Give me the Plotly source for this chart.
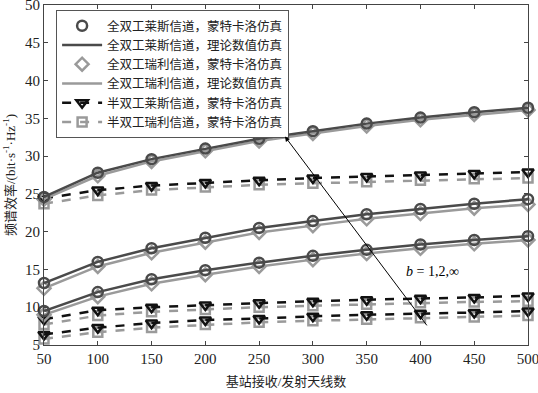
import plotly.graph_objects as go

antennas = [50, 100, 150, 200, 250, 300, 350, 400, 450, 500]

# Full-duplex, Rician channel (theory ≈ Monte Carlo), b = 1, 2, ∞
fd_rician_b1 = [24.6, 27.8, 29.6, 31.0, 32.3, 33.3, 34.3, 35.1, 35.8, 36.4]
fd_rician_b2 = [13.2, 16.0, 17.8, 19.2, 20.5, 21.4, 22.3, 23.0, 23.7, 24.3]
fd_rician_binf = [9.5, 12.0, 13.7, 14.9, 15.9, 16.8, 17.6, 18.3, 18.9, 19.4]

# Full-duplex, Rayleigh channel
fd_rayleigh_b1 = [24.3, 27.4, 29.3, 30.7, 32.0, 33.0, 34.0, 34.8, 35.5, 36.1]
fd_rayleigh_b2 = [12.5, 15.4, 17.2, 18.6, 19.9, 20.8, 21.7, 22.4, 23.1, 23.6]
fd_rayleigh_binf = [9.0, 11.4, 13.1, 14.3, 15.4, 16.3, 17.1, 17.8, 18.4, 18.9]

# Half-duplex, Rician channel
hd_rician_b1 = [24.4, 25.5, 26.1, 26.5, 26.8, 27.1, 27.3, 27.5, 27.7, 27.9]
hd_rician_b2 = [8.4, 9.6, 10.0, 10.3, 10.6, 10.8, 11.0, 11.2, 11.3, 11.5]
hd_rician_binf = [6.4, 7.3, 7.9, 8.3, 8.5, 8.8, 9.0, 9.2, 9.3, 9.5]

# Half-duplex, Rayleigh channel
hd_rayleigh_b1 = [23.7, 24.8, 25.5, 25.9, 26.2, 26.4, 26.6, 26.8, 27.0, 27.1]
hd_rayleigh_b2 = [7.7, 8.9, 9.4, 9.7, 10.0, 10.2, 10.4, 10.6, 10.7, 10.8]
hd_rayleigh_binf = [5.8, 6.7, 7.3, 7.7, 8.0, 8.2, 8.4, 8.6, 8.7, 8.9]

legend_names = [
    "全双工莱斯信道，蒙特卡洛仿真",
    "全双工莱斯信道，理论数值仿真",
    "全双工瑞利信道，蒙特卡洛仿真",
    "全双工瑞利信道，理论数值仿真",
    "半双工莱斯信道，蒙特卡洛仿真",
    "半双工瑞利信道，蒙特卡洛仿真",
]

x_ticks = [50, 100, 150, 200, 250, 300, 350, 400, 450, 500]
y_ticks = [5, 10, 15, 20, 25, 30, 35, 40, 45, 50]

DARK = "#4a4a4a"
LIGHT = "#9a9a9a"
FONT = "Liberation Serif, Noto Sans CJK SC"

fig = go.Figure()

groups = [
    (fd_rician_b1, fd_rayleigh_b1, hd_rician_b1, hd_rayleigh_b1),
    (fd_rician_b2, fd_rayleigh_b2, hd_rician_b2, hd_rayleigh_b2),
    (fd_rician_binf, fd_rayleigh_binf, hd_rician_binf, hd_rayleigh_binf),
]

for gi, (fdr, fdy, hdr, hdy) in enumerate(groups):
    show = gi == 0
    fig.add_trace(go.Scatter(
        x=antennas, y=hdy, mode="lines+markers", name=legend_names[5],
        legendrank=6, showlegend=show, cliponaxis=False,
        line=dict(color=LIGHT, width=2.5, dash="dash"),
        marker=dict(symbol="square-open", size=9, color=LIGHT, line=dict(width=2.5, color=LIGHT)),
    ))
    fig.add_trace(go.Scatter(
        x=antennas, y=hdr, mode="lines+markers", name=legend_names[4],
        legendrank=5, showlegend=show, cliponaxis=False,
        line=dict(color="#111111", width=2.5, dash="dash"),
        marker=dict(symbol="triangle-down-open", size=10, color="#111111", line=dict(width=2.5, color="#111111")),
    ))
    fig.add_trace(go.Scatter(
        x=antennas, y=fdy, mode="lines", name=legend_names[3],
        legendrank=4, showlegend=show,
        line=dict(color=LIGHT, width=2.5),
    ))
    fig.add_trace(go.Scatter(
        x=antennas, y=fdy, mode="markers", name=legend_names[2],
        legendrank=3, showlegend=show, cliponaxis=False,
        marker=dict(symbol="diamond-open", size=10, color=LIGHT, line=dict(width=2.5, color=LIGHT)),
    ))
    fig.add_trace(go.Scatter(
        x=antennas, y=fdr, mode="lines", name=legend_names[1],
        legendrank=2, showlegend=show,
        line=dict(color=DARK, width=2.5),
    ))
    fig.add_trace(go.Scatter(
        x=antennas, y=fdr, mode="markers", name=legend_names[0],
        legendrank=1, showlegend=show, cliponaxis=False,
        marker=dict(symbol="circle-open", size=10, color=DARK, line=dict(width=2.5, color=DARK)),
    ))

fig.add_annotation(
    x=274, y=32.6, ax=407, ay=7.4, xref="x", yref="y", axref="x", ayref="y",
    showarrow=True, arrowhead=2, arrowsize=1, arrowwidth=1, arrowcolor="#000000", text="",
)
fig.add_annotation(
    x=411, y=14.7, xref="x", yref="y", showarrow=False,
    text="<i>b</i> = 1,2,∞", font=dict(family=FONT, size=14, color="#000000"),
)

axis_common = dict(
    showgrid=False, zeroline=False, showline=True, linecolor="#444444", linewidth=1.2,
    mirror="ticks", ticks="inside", ticklen=4, tickcolor="#444444", automargin=False,
    ticklabeloverflow="allow",
    tickfont=dict(family=FONT, size=15, color="#222222"),
)

fig.update_layout(
    width=538, height=393,
    margin=dict(l=44, r=10, t=5, b=48),
    plot_bgcolor="white", paper_bgcolor="white",
    font=dict(family=FONT, color="#222222"),
    xaxis=dict(range=[50, 500], tickvals=x_ticks, **axis_common,
               title=dict(text="基站接收/发射天线数", font=dict(family=FONT, size=13), standoff=10)),
    yaxis=dict(range=[5, 50], tickvals=y_ticks, **axis_common,
               title=dict(text="频谱效率/(bit·s<sup>-1</sup>·Hz<sup>-1</sup>)", font=dict(family=FONT, size=13), standoff=6)),
    legend=dict(x=0.025, y=0.985, xanchor="left", yanchor="top",
                bgcolor="white", bordercolor="#555555", borderwidth=1,
                font=dict(family=FONT, size=12.5, color="#222222"),
                tracegroupgap=0, itemwidth=40),
    showlegend=True,
)

fig.write_html("out.html", post_script="document.body.style.margin='0';",
               config={"displayModeBar": False})
